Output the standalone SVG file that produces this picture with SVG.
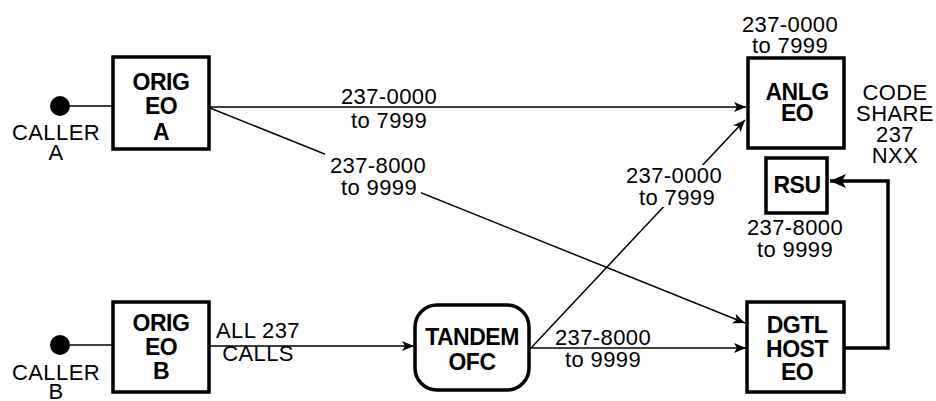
<svg xmlns="http://www.w3.org/2000/svg" width="936" height="401" viewBox="0 0 936 401">
<style>
.box{fill:#fff;stroke:#000;stroke-width:3.5}
.ln{fill:none;stroke:#000;stroke-width:1.5}
.thick{fill:none;stroke:#000;stroke-width:3.5}
.b{font-family:"Liberation Sans",Arial,sans-serif;font-weight:bold;font-size:23px;letter-spacing:-0.5px;text-anchor:middle;fill:#000}
.t{font-family:"Liberation Sans",Arial,sans-serif;font-size:22px;letter-spacing:0.4px;text-anchor:middle;fill:#000}
.bg{fill:#fff}
</style>
<defs>
<marker id="ah" markerUnits="userSpaceOnUse" markerWidth="14" markerHeight="12" refX="12" refY="5" orient="auto">
<path d="M0,0 L12,5 L0,10 L3,5 z" fill="#000"/>
</marker>
<marker id="ahb" markerUnits="userSpaceOnUse" markerWidth="18" markerHeight="16" refX="16" refY="7" orient="auto">
<path d="M0,0 L16,7 L0,14 L4,7 z" fill="#000"/>
</marker>
</defs>
<g id="connectors">
<line class="ln" x1="70" y1="106" x2="113" y2="106"/>
<line class="ln" x1="70" y1="345" x2="113" y2="345"/>
<line class="ln" x1="209" y1="346" x2="414" y2="346" marker-end="url(#ah)"/>
<line class="ln" x1="209" y1="107" x2="746" y2="107" marker-end="url(#ah)"/>
<line class="ln" x1="210" y1="108" x2="745" y2="323" marker-end="url(#ah)"/>
<line class="ln" x1="531" y1="348" x2="745" y2="120" marker-end="url(#ah)"/>
<line class="ln" x1="529" y1="348" x2="746" y2="348" marker-end="url(#ah)"/>
<path class="thick" d="M844,348 H888 V181 H830" marker-end="url(#ahb)"/>
<rect class="bg" x="325" y="153" width="106" height="22"/>
<rect class="bg" x="337" y="175" width="84" height="23"/>
<rect class="bg" x="622" y="165" width="105" height="21"/>
<rect class="bg" x="635" y="186" width="84" height="21"/>
<text class="t" x="389" y="104">237-0000</text>
<text class="t" x="389" y="128">to 7999</text>
<text class="t" x="378" y="173">237-8000</text>
<text class="t" x="379" y="195">to 9999</text>
<text class="t" x="674" y="183">237-0000</text>
<text class="t" x="677" y="205">to 7999</text>
<text class="t" x="258" y="338">ALL 237</text>
<text class="t" x="258" y="361">CALLS</text>
<text class="t" x="603" y="345">237-8000</text>
<text class="t" x="603" y="367">to 9999</text>
</g>
<g id="callerA">
<circle cx="60" cy="106" r="10" fill="#000"/>
<text class="t" x="56" y="140">CALLER</text>
<text class="t" x="56" y="160">A</text>
</g>
<g id="callerB">
<circle cx="60" cy="345" r="10" fill="#000"/>
<text class="t" x="56" y="380">CALLER</text>
<text class="t" x="56" y="399">B</text>
</g>
<g id="origA">
<rect class="box" x="113" y="57" width="96" height="92"/>
<text class="b" x="161" y="90">ORIG</text>
<text class="b" x="161" y="114">EO</text>
<text class="b" x="161" y="140">A</text>
</g>
<g id="origB">
<rect class="box" x="113" y="302" width="96" height="90"/>
<text class="b" x="161" y="331">ORIG</text>
<text class="b" x="161" y="355">EO</text>
<text class="b" x="161" y="379">B</text>
</g>
<g id="tandem">
<rect class="box" x="415" y="305" width="114" height="85" rx="22" ry="22"/>
<text class="b" x="472" y="345">TANDEM</text>
<text class="b" x="472" y="370">OFC</text>
</g>
<g id="anlg">
<text class="t" x="790" y="32">237-0000</text>
<text class="t" x="790" y="53">to 7999</text>
<rect class="box" x="748" y="58" width="96" height="90"/>
<text class="b" x="797" y="100">ANLG</text>
<text class="b" x="797" y="121">EO</text>
</g>
<g id="codeshare">
<text class="t" x="895" y="100">CODE</text>
<text class="t" x="895" y="121">SHARE</text>
<text class="t" x="895" y="142">237</text>
<text class="t" x="895" y="163">NXX</text>
</g>
<g id="rsu">
<rect class="box" x="766" y="158" width="61" height="55"/>
<text class="b" x="797" y="193">RSU</text>
<text class="t" x="795" y="235">237-8000</text>
<text class="t" x="795" y="257">to 9999</text>
</g>
<g id="dgtl">
<rect class="box" x="747" y="302" width="97" height="90"/>
<text class="b" x="797" y="333">DGTL</text>
<text class="b" x="797" y="357">HOST</text>
<text class="b" x="797" y="380">EO</text>
</g>
</svg>
